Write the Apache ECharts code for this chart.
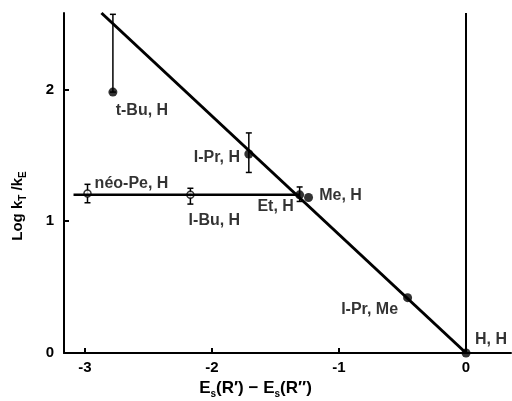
<!DOCTYPE html>
<html>
<head>
<meta charset="utf-8">
<script src="https://cdn.jsdelivr.net/npm/echarts@6/dist/echarts.min.js"></script>
<style>
html, body { margin: 0; padding: 0; background: #fff; }
#chart { width: 512px; height: 401px; }
</style>
</head>
<body>
<div id="chart"></div>
<script>
// points: Es(R') - Es(R''), log kT/kE
var names = ['t-Bu, H', 'I-Pr, H', 'néo-Pe, H', 'I-Bu, H', 'Et, H', 'Me, H', 'I-Pr, Me', 'H, H'];
var xVals = [-2.78, -1.71, -2.98, -2.17, -1.31, -1.24, -0.46, 0];
var yVals = [1.98, 1.51, 1.21, 1.20, 1.20, 1.18, 0.42, 0];
var openPts = [false, false, true, true, false, false, false, false];
// error bars (low, high); null = none
var errLow = [1.98, 1.37, 1.14, 1.13, 1.15, null, null, null];
var errHigh = [2.57, 1.67, 1.28, 1.25, 1.26, null, null, null];
// drawn lines
var fitX = [-2.87, 0];
var fitY = [2.58, 0];
var flatX = [-3.09, -1.31];
var flatY = [1.2, 1.2];
var xTicks = [-3, -2, -1, 0];
var yTicks = [0, 1, 2];

// label offsets (px) from each point
var labelOffsets = [[29, 19], [-32, 4], [44, -10], [24, 26], [-24, 12], [32, -2], [-38, 12], [25, -13]];

var font = 'Liberation Sans, Arial, sans-serif';

var filled = [], hollow = [], bars = [];
for (var i = 0; i < names.length; i++) {
	var item = {
		value: [xVals[i], yVals[i]],
		label: {
			show: true,
			formatter: names[i],
			position: 'inside',
			offset: labelOffsets[i],
			color: '#000',
			fontFamily: font,
			fontWeight: 'bold',
			fontSize: 16
		}
	};
	if (openPts[i]) {
		hollow.push(item);
	} else {
		filled.push(item);
	}
	if (errLow[i] !== null) {
		bars.push([xVals[i], errLow[i], errHigh[i]]);
	}
}

var chart = echarts.init(document.getElementById('chart'), null, {renderer: 'canvas'});
chart.setOption({
	animation: false,
	backgroundColor: '#fff',
	grid: {left: 64, right: 1, top: 13, bottom: 48, outerBoundsMode: 'none'},
	xAxis: {
		type: 'value',
		min: -3.165,
		max: 0.354,
		splitLine: {show: false},
		axisLine: {onZero: false, lineStyle: {color: '#000', width: 2}},
		axisTick: {inside: true, length: 5, customValues: xTicks, lineStyle: {color: '#000', width: 2}},
		axisLabel: {customValues: xTicks, color: '#000', fontFamily: font, fontWeight: 'bold', fontSize: 15, margin: 7},
		name: '{b|E}{s|s}{b|(R\u2032) \u2212 }{b|E}{s|s}{b|(R\u2033)}',
		nameLocation: 'middle',
		nameGap: 23,
		nameTextStyle: {
			padding: [0, 64, 0, 0],
			rich: {
				b: {color: '#000', fontFamily: font, fontWeight: 'bold', fontSize: 17, lineHeight: 22, verticalAlign: 'middle'},
				s: {color: '#000', fontFamily: font, fontWeight: 'bold', fontSize: 10, lineHeight: 22, verticalAlign: 'bottom'}
			}
		}
	},
	yAxis: {
		type: 'value',
		min: 0,
		max: 2.58,
		splitLine: {show: false},
		axisLine: {onZero: false, lineStyle: {color: '#000', width: 2}},
		axisTick: {inside: true, length: 5, customValues: yTicks, lineStyle: {color: '#000', width: 2}},
		axisLabel: {customValues: yTicks, color: '#000', fontFamily: font, fontWeight: 'bold', fontSize: 15, margin: 10},
		name: '{b|Log k}{s|T}{b| /k}{s|E}',
		nameLocation: 'middle',
		nameRotate: 90,
		nameGap: 36,
		nameTextStyle: {
			padding: [0, 46, 0, 0],
			rich: {
				b: {color: '#000', fontFamily: font, fontWeight: 'bold', fontSize: 15, lineHeight: 20, verticalAlign: 'middle'},
				s: {color: '#000', fontFamily: font, fontWeight: 'bold', fontSize: 10, lineHeight: 20, verticalAlign: 'bottom'}
			}
		}
	},
	series: [
		{
			type: 'line',
			data: [[fitX[0], fitY[0]], [fitX[1], fitY[1]]],
			symbol: 'none',
			lineStyle: {color: '#000', width: 3},
			markLine: {
				silent: true,
				symbol: 'none',
				label: {show: false},
				lineStyle: {color: '#000', width: 2, type: 'solid'},
				data: [{xAxis: 0}]
			}
		},
		{
			type: 'line',
			data: [[flatX[0], flatY[0]], [flatX[1], flatY[1]]],
			symbol: 'none',
			lineStyle: {color: '#000', width: 2.5}
		},
		{
			type: 'custom',
			data: bars,
			renderItem: function(params, api) {
				var x = api.value(0);
				var lo = api.coord([x, api.value(1)]);
				var hi = api.coord([x, api.value(2)]);
				var w = 3;
				var st = {stroke: '#000', lineWidth: 1.5};
				return {
					type: 'group',
					children: [
						{type: 'line', shape: {x1: lo[0], y1: lo[1], x2: hi[0], y2: hi[1]}, style: st},
						{type: 'line', shape: {x1: lo[0] - w, y1: lo[1], x2: lo[0] + w, y2: lo[1]}, style: st},
						{type: 'line', shape: {x1: hi[0] - w, y1: hi[1], x2: hi[0] + w, y2: hi[1]}, style: st}
					]
				};
			}
		},
		{
			type: 'scatter',
			data: filled,
			symbol: 'circle',
			symbolSize: 9,
			itemStyle: {color: '#000'}
		},
		{
			type: 'scatter',
			data: hollow,
			symbol: 'circle',
			symbolSize: 7,
			itemStyle: {color: '#fff', borderColor: '#000', borderWidth: 1.5}
		}
	]
});
</script>
</body>
</html>
